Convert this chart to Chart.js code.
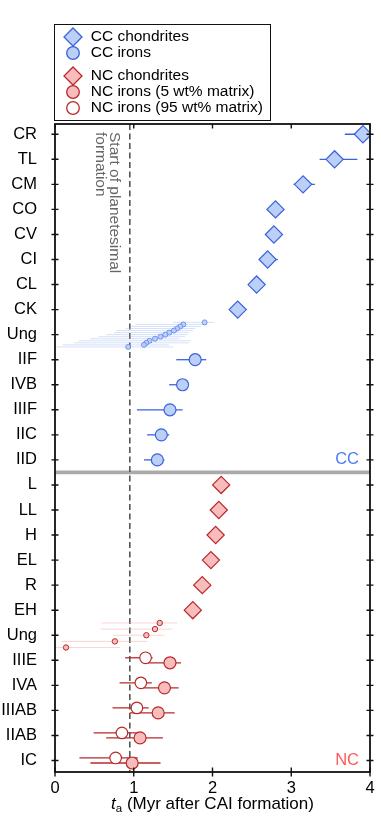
<!DOCTYPE html>
<html>
<head>
<meta charset="utf-8">
<script src="https://cdn.jsdelivr.net/npm/chart.js@4/dist/chart.umd.min.js"></script>
<style>
  html, body { margin: 0; padding: 0; background: #fff; }
  #wrap { position: relative; width: 381px; height: 818px; overflow: hidden; font-family: "Liberation Sans", Arial, sans-serif; }
  #chart { position: absolute; left: 0; top: 0; }
  #legendBox { position: absolute; left: 54px; top: 24px; width: 217px; height: 97px; box-sizing: border-box; border: 1.5px solid #111; }
  .lg-text { position: absolute; left: 90.7px; font-size: 15.5px; line-height: 18px; color: #000; white-space: nowrap; }
  .lg-mark { position: absolute; width: 22px; height: 22px; }
  #xTitle { position: absolute; left: 55px; width: 315px; top: 794px; text-align: center; font-size: 17px; line-height: 20px; color: #000; white-space: nowrap; }
  #xTitle sub { font-size: 11.5px; line-height: 0; vertical-align: -3px; }
</style>
</head>
<body>
<div id="wrap">
  <canvas id="chart" width="381" height="818"></canvas>
  <div id="legendBox"></div>
  <svg class="lg-mark" style="left:61.7px;top:25.7px" viewBox="0 0 22 22"><polygon points="11,2 20,11 11,20 2,11" fill="#bccff7" stroke="#3a62dc" stroke-width="1.3"/></svg>
  <div class="lg-text" style="top:27.3px">CC chondrites</div>
  <svg class="lg-mark" style="left:61.7px;top:41.7px" viewBox="0 0 22 22"><circle cx="11" cy="11" r="6.3" fill="#bccff7" stroke="#3a62dc" stroke-width="1.3"/></svg>
  <div class="lg-text" style="top:42.9px">CC irons</div>
  <svg class="lg-mark" style="left:61.7px;top:65px" viewBox="0 0 22 22"><polygon points="11,2 20,11 11,20 2,11" fill="#f9bcbc" stroke="#b82a2a" stroke-width="1.3"/></svg>
  <div class="lg-text" style="top:66.3px">NC chondrites</div>
  <svg class="lg-mark" style="left:61.7px;top:81px" viewBox="0 0 22 22"><circle cx="11" cy="11" r="6.3" fill="#f9bcbc" stroke="#b82a2a" stroke-width="1.3"/></svg>
  <div class="lg-text" style="top:82.3px">NC irons (5 wt% matrix)</div>
  <svg class="lg-mark" style="left:61.7px;top:97px" viewBox="0 0 22 22"><circle cx="11" cy="11" r="6.3" fill="#ffffff" stroke="#b82a2a" stroke-width="1.3"/></svg>
  <div class="lg-text" style="top:98.3px">NC irons (95 wt% matrix)</div>
  <div id="xTitle"><i>t</i><sub>a</sub> (Myr after CAI formation)</div>
</div>
<script>
// ---------------- data ----------------
const ungLabel = 'Ung';
const ccChondriteGroups = ['CR', 'TL', 'CM', 'CO', 'CV', 'CI', 'CL', 'CK'];
const ccChondriteAge    = [3.91, 3.55, 3.15, 2.80, 2.78, 2.70, 2.56, 2.32];
const ccChondriteLow    = [3.68, 3.36, 3.03, null, null, 2.59, null, null];
const ccChondriteHigh   = [4.15, 3.84, 3.30, null, null, 2.83, null, null];

const ccUngAge  = [1.90, 1.63, 1.59, 1.55, 1.51, 1.45, 1.40, 1.34, 1.27, 1.20, 1.16, 1.13, 0.93];
const ccUngLow  = [1.50, 1.02, 0.95, 0.90, 0.78, 0.75, 0.65, 0.55, 0.45, 0.30, 0.25, 0.10, 0.02];
const ccUngHigh = [2.02, 1.90, 1.85, 1.78, 1.75, 1.70, 1.68, 1.65, 1.58, 1.72, 1.70, 1.45, 1.50];

const ccIronGroups = ['IIF', 'IVB', 'IIIF', 'IIC', 'IID'];
const ccIronAge    = [1.78, 1.62, 1.46, 1.35, 1.30];
const ccIronLow    = [1.54, 1.45, 1.04, 1.17, 1.13];
const ccIronHigh   = [1.92, 1.70, 1.62, 1.45, 1.39];

const ncChondriteGroups = ['L', 'LL', 'H', 'EL', 'R', 'EH'];
const ncChondriteAge    = [2.11, 2.08, 2.04, 1.98, 1.87, 1.75];

const ncUngAge  = [1.33, 1.27, 1.16, 0.76, 0.14];
const ncUngLow  = [0.59, 0.58, 0.74, 0.08, -0.10];
const ncUngHigh = [1.55, 1.49, 1.39, 1.17, 0.83];

const ncIronGroups = ['IIIE', 'IVA', 'IIIAB', 'IIAB', 'IC'];
const nc5Age   = [1.46, 1.39, 1.31, 1.08, 0.98];
const nc5Low   = [1.17, 1.10, 0.95, 0.65, 0.45];
const nc5High  = [1.60, 1.57, 1.52, 1.37, 1.34];
const nc95Age  = [1.15, 1.09, 1.04, 0.85, 0.77];
const nc95Low  = [0.89, 0.82, 0.73, 0.49, 0.31];
const nc95High = [1.24, 1.23, 1.19, 1.08, 1.05];

const planetesimalStart = 0.95;
const xTicks = [0, 1, 2, 3, 4];

// ---------------- rows ----------------
const rowLabels = [...ccChondriteGroups, ungLabel, ...ccIronGroups, ...ncChondriteGroups, ungLabel, ...ncIronGroups];
const rowCCUng = ccChondriteGroups.length;
const rowCCIron0 = rowCCUng + 1;
const rowNCChond0 = rowCCIron0 + ccIronGroups.length;
const rowNCUng = rowNCChond0 + ncChondriteGroups.length;
const rowNCIron0 = rowNCUng + 1;
const lastCCRow = rowNCChond0 - 1;

function pts(ages, row0, low, high, dy) {
  return ages.map((a, i) => ({ x: a, y: row0 + i + (dy || 0), lo: low ? low[i] : null, hi: high ? high[i] : null }));
}
function ungPts(ages, row, low, high) {
  const n = ages.length;
  return ages.map((a, i) => ({ x: a, y: row - 0.49 + 0.98 * i / (n - 1), lo: low[i], hi: high[i] }));
}

const CC_STROKE = '#3a62dc', CC_FILL = '#bccff7';
const NC_STROKE = '#b82a2a', NC_FILL = '#f9bcbc';
const FONT = '"Liberation Sans", Arial, sans-serif';

const datasets = [
  { label: 'CC chondrites', data: pts(ccChondriteAge, 0, ccChondriteLow, ccChondriteHigh),
    pointStyle: 'rectRot', pointRadius: 8.6, pointBackgroundColor: CC_FILL, pointBorderColor: CC_STROKE, pointBorderWidth: 1.2,
    errColor: CC_STROKE, errWidth: 1.3 },
  { label: 'CC irons', data: pts(ccIronAge, rowCCIron0, ccIronLow, ccIronHigh),
    pointStyle: 'circle', pointRadius: 6, pointBackgroundColor: CC_FILL, pointBorderColor: CC_STROKE, pointBorderWidth: 1.2,
    errColor: CC_STROKE, errWidth: 1.3 },
  { label: 'CC irons (ungrouped)', data: ungPts(ccUngAge, rowCCUng, ccUngLow, ccUngHigh),
    pointStyle: 'circle', pointRadius: 2.5, pointBackgroundColor: 'rgba(188,207,247,0.95)', pointBorderColor: 'rgba(95,135,235,0.85)', pointBorderWidth: 1,
    errColor: 'rgba(150,178,242,0.4)', errWidth: 1 },
  { label: 'NC chondrites', data: pts(ncChondriteAge, rowNCChond0),
    pointStyle: 'rectRot', pointRadius: 8.6, pointBackgroundColor: NC_FILL, pointBorderColor: NC_STROKE, pointBorderWidth: 1.2 },
  { label: 'NC irons (95 wt% matrix)', data: pts(nc95Age, rowNCIron0, nc95Low, nc95High, -0.1),
    pointStyle: 'circle', pointRadius: 5.8, pointBackgroundColor: '#ffffff', pointBorderColor: NC_STROKE, pointBorderWidth: 1.2,
    errColor: NC_STROKE, errWidth: 1.3 },
  { label: 'NC irons (5 wt% matrix)', data: pts(nc5Age, rowNCIron0, nc5Low, nc5High, 0.1),
    pointStyle: 'circle', pointRadius: 6, pointBackgroundColor: NC_FILL, pointBorderColor: NC_STROKE, pointBorderWidth: 1.2,
    errColor: NC_STROKE, errWidth: 1.3 },
  { label: 'NC irons (ungrouped)', data: ungPts(ncUngAge, rowNCUng, ncUngLow, ncUngHigh),
    pointStyle: 'circle', pointRadius: 2.7, pointBackgroundColor: NC_FILL, pointBorderColor: NC_STROKE, pointBorderWidth: 1,
    errColor: 'rgba(245,165,165,0.45)', errWidth: 1 }
];

// ---------------- plugins ----------------
const underlay = {
  id: 'underlay',
  beforeDatasetsDraw(chart) {
    const { ctx, chartArea: a, scales: { x, y } } = chart;
    ctx.save();
    const ys = y.getPixelForValue(lastCCRow + 0.5);
    ctx.strokeStyle = '#aaaaaa';
    ctx.lineWidth = 3.8;
    ctx.beginPath(); ctx.moveTo(a.left, ys); ctx.lineTo(a.right, ys); ctx.stroke();
    const xd = x.getPixelForValue(planetesimalStart);
    ctx.strokeStyle = '#555555';
    ctx.lineWidth = 1.6;
    ctx.setLineDash([6, 3.5]);
    ctx.beginPath(); ctx.moveTo(xd, a.top); ctx.lineTo(xd, a.bottom); ctx.stroke();
    ctx.setLineDash([]);
    ctx.fillStyle = '#666666';
    ctx.font = '15.5px ' + FONT;
    ctx.textAlign = 'left';
    ctx.textBaseline = 'alphabetic';
    ctx.translate(xd - 20, a.top + 8);
    ctx.rotate(Math.PI / 2);
    ctx.fillText('Start of planetesimal', 0, 0);
    ctx.fillText('formation', 0, 14);
    ctx.restore();
    ctx.save();
    ctx.beginPath(); ctx.rect(a.left, a.top, a.right - a.left, a.bottom - a.top); ctx.clip();
    chart.data.datasets.forEach(ds => {
      if (!ds.errColor) return;
      ctx.strokeStyle = ds.errColor;
      ctx.lineWidth = ds.errWidth;
      ds.data.forEach(p => {
        if (p.lo == null || p.hi == null) return;
        const py = y.getPixelForValue(p.y);
        ctx.beginPath();
        ctx.moveTo(x.getPixelForValue(p.lo), py);
        ctx.lineTo(x.getPixelForValue(p.hi), py);
        ctx.stroke();
      });
    });
    ctx.restore();
  }
};

const frame = {
  id: 'frame',
  afterDatasetsDraw(chart) {
    const { ctx, chartArea: a, scales: { x, y } } = chart;
    ctx.save();
    ctx.strokeStyle = '#111111';
    ctx.lineWidth = 1.8;
    ctx.strokeRect(a.left, a.top, a.right - a.left, a.bottom - a.top);
    ctx.lineWidth = 1.4;
    ctx.beginPath();
    y.ticks.forEach(t => {
      const py = y.getPixelForValue(t.value);
      ctx.moveTo(a.left - 3.5, py); ctx.lineTo(a.left + 3.5, py);
      ctx.moveTo(a.right - 3.5, py); ctx.lineTo(a.right + 3.5, py);
    });
    x.ticks.forEach(t => {
      const px = x.getPixelForValue(t.value);
      ctx.moveTo(px, a.top); ctx.lineTo(px, a.top + 4.5);
      ctx.moveTo(px, a.bottom - 4.5); ctx.lineTo(px, a.bottom + 4.5);
    });
    ctx.stroke();
    ctx.font = '16.5px ' + FONT;
    ctx.textAlign = 'right';
    ctx.textBaseline = 'middle';
    ctx.fillStyle = '#4d7cf2';
    ctx.fillText('CC', a.right - 11, y.getPixelForValue(lastCCRow));
    ctx.fillStyle = '#ff5a5a';
    ctx.fillText('NC', a.right - 11, y.getPixelForValue(rowLabels.length - 1));
    ctx.restore();
  }
};

new Chart(document.getElementById('chart'), {
  type: 'scatter',
  data: { datasets },
  options: {
    responsive: false,
    animation: false,
    events: [],
    devicePixelRatio: 1,
    layout: { padding: { top: 124, right: 11, bottom: 0, left: 0 } },
    plugins: { legend: { display: false }, tooltip: { enabled: false } },
    scales: {
      x: {
        type: 'linear', min: 0, max: 4,
        afterBuildTicks: ax => { ax.ticks = xTicks.map(v => ({ value: v })); },
        ticks: { font: { family: FONT, size: 16.5 }, color: '#000', padding: -1, maxRotation: 0 },
        grid: { display: false }, border: { display: false },
        afterFit: ax => { ax.height = 46; }
      },
      y: {
        type: 'linear', reverse: true, min: -0.41, max: 25.46,
        afterBuildTicks: ax => { ax.ticks = rowLabels.map((_, i) => ({ value: i })); },
        ticks: { autoSkip: false, font: { family: FONT, size: 16.5 }, color: '#000', padding: 10,
                 callback: v => rowLabels[Math.round(v)] },
        grid: { display: false }, border: { display: false },
        afterFit: ax => { ax.width = 55; }
      }
    }
  },
  plugins: [underlay, frame]
});
</script>
</body>
</html>
